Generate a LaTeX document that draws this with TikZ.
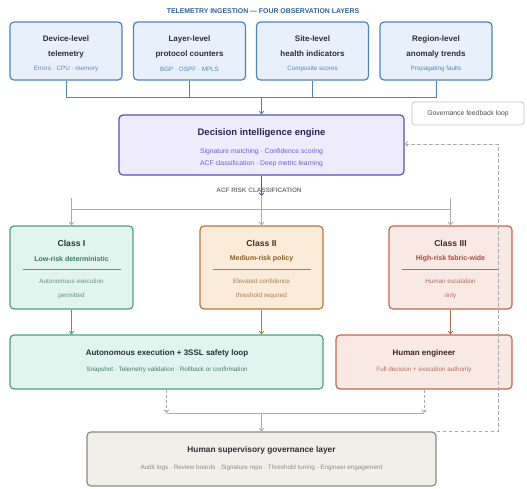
\documentclass[tikz,border=0pt]{standalone}
\usepackage{fontspec}
\setmainfont{Liberation Sans}
\usetikzlibrary{arrows.meta}

\definecolor{obsfill}{HTML}{E8F1FB}
\definecolor{obsdraw}{HTML}{4D84BD}
\definecolor{obssub}{HTML}{4F86C6}
\definecolor{obshead}{HTML}{2F5F9E}
\definecolor{engfill}{HTML}{EEEBFD}
\definecolor{engdraw}{HTML}{5A4EC8}
\definecolor{engsub}{HTML}{6B60D4}
\definecolor{lowfill}{HTML}{E2F4EE}
\definecolor{lowdraw}{HTML}{4C9F85}
\definecolor{lowsub}{HTML}{2F7D63}
\definecolor{medfill}{HTML}{FBECD9}
\definecolor{meddraw}{HTML}{B27A3C}
\definecolor{medsub}{HTML}{8F5E17}
\definecolor{highfill}{HTML}{F9E9E4}
\definecolor{highdraw}{HTML}{C06751}
\definecolor{highsub}{HTML}{B3463A}
\definecolor{govfill}{HTML}{F1EFEA}
\definecolor{govdraw}{HTML}{8E8B83}
\definecolor{linegray}{HTML}{ABABAB}
\definecolor{darktext}{HTML}{2B2F36}

\tikzset{
  box/.style={draw, rounded corners=4pt, line width=1.2pt, inner sep=0pt},
  hd/.style={font=\bfseries\fontsize{8}{9}\selectfont, text=darktext},
  sm/.style={font=\fontsize{6.3}{7.5}\selectfont},
  tip/.style={-{Straight Barb[length=2.5pt,width=4.5pt]}},
  link/.style={draw=linegray, line width=0.9pt},
}

\begin{document}
\begin{tikzpicture}[x=1pt, y=-1pt]
  \useasboundingbox (0,0) rectangle (527,488);

  % observation layers
  \node[font=\bfseries\fontsize{6.9}{8}\selectfont, text=obshead] (ttl) at (263,11) {TELEMETRY INGESTION — FOUR OBSERVATION LAYERS};
  \node[box, fill=obsfill, draw=obsdraw, minimum width=112, minimum height=58] (dev) at (66,51) {};
  \node[box, fill=obsfill, draw=obsdraw, minimum width=112, minimum height=58] (lay) at (189.5,51) {};
  \node[box, fill=obsfill, draw=obsdraw, minimum width=112, minimum height=58] (site) at (312.5,51) {};
  \node[box, fill=obsfill, draw=obsdraw, minimum width=112, minimum height=58] (reg) at (436,51) {};
  \node[hd] at (66,39) {Device-level};
  \node[hd] at (66,54) {telemetry};
  \node[sm, text=obssub] at (66,69) {Errors · CPU · memory};
  \node[hd] at (189.5,39) {Layer-level};
  \node[hd] at (189.5,54) {protocol counters};
  \node[sm, text=obssub] at (189.5,69) {BGP · OSPF · MPLS};
  \node[hd] at (312.5,39) {Site-level};
  \node[hd] at (312.5,54) {health indicators};
  \node[sm, text=obssub] at (312.5,69) {Composite scores};
  \node[hd] at (436,39) {Region-level};
  \node[hd] at (436,54) {anomaly trends};
  \node[sm, text=obssub] at (436,69) {Propagating faults};

  % ingestion bus
  \coordinate (obsbus) at (261.5,97);
  \draw[draw=obsdraw, line width=0.9pt] (dev.south) |- (obsbus);
  \draw[draw=obsdraw, line width=0.9pt] (lay.south) |- (obsbus);
  \draw[draw=obsdraw, line width=0.9pt] (site.south) |- (obsbus);
  \draw[draw=obsdraw, line width=0.9pt] (reg.south) |- (obsbus);

  % decision engine
  \node[box, fill=engfill, draw=engdraw, minimum width=285, minimum height=60] (eng) at (261.5,145) {};
  \draw[draw=obsdraw, line width=0.9pt, tip] (obsbus) -- (eng.north);
  \node[hd, font=\bfseries\fontsize{9.5}{11}\selectfont, text=engdraw!45!black] at (261.5,133.5) {Decision intelligence engine};
  \node[sm, font=\fontsize{6.8}{8}\selectfont, text=engsub] at (261.5,151.5) {Signature matching · Confidence scoring};
  \node[sm, font=\fontsize{6.8}{8}\selectfont, text=engsub] at (261.5,163.5) {ACF classification · Deep metric learning};

  % feedback label
  \node[draw=linegray!70, fill=white, rounded corners=3pt, line width=0.7pt, minimum width=112, minimum height=23] (fbl) at (468,113.5) {};
  \node[font=\fontsize{6.8}{8}\selectfont, text=darktext!85] at (fbl) {Governance feedback loop};

  % risk classification
  \coordinate (acf) at (261.5,196);
  \draw[draw=engdraw, line width=0.9pt, tip] (eng.south) -- (acf);
  \node[font=\bfseries\fontsize{6.4}{7}\selectfont, text=darktext!65] at (259,190) {ACF RISK CLASSIFICATION};

  % class boxes
  \node[box, fill=lowfill, draw=lowdraw, minimum width=123, minimum height=83] (c1) at (71.5,267.5) {};
  \node[box, fill=medfill, draw=meddraw, minimum width=123, minimum height=83] (c2) at (261.5,267.5) {};
  \node[box, fill=highfill, draw=highdraw, minimum width=123, minimum height=83] (c3) at (450.5,267.5) {};

  \coordinate (stubL) at (71.5,198);
  \coordinate (stubR) at (450.5,198);
  \draw[link] (stubL |- 0,209) -- (stubR |- 0,209);
  \draw[link, tip] (stubL) -- (c1.north);
  \draw[link, tip] (acf) -- (c2.north);
  \draw[link, tip] (stubR) -- (c3.north);

  \node[hd, font=\bfseries\fontsize{8.6}{10}\selectfont, text=lowdraw!40!black] at (71.5,243) {Class I};
  \node[font=\bfseries\fontsize{7}{8}\selectfont, text=lowsub] at (71.5,259) {Low-risk deterministic};
  \draw[draw=lowdraw, line width=0.6pt] (22.5,269) -- (120.5,269);
  \node[sm, text=lowdraw!70!gray] at (71.5,281) {Autonomous execution};
  \node[sm, text=lowdraw!70!gray] at (71.5,296) {permitted};

  \node[hd, font=\bfseries\fontsize{8.6}{10}\selectfont, text=meddraw!40!black] at (261.5,243) {Class II};
  \node[font=\bfseries\fontsize{7}{8}\selectfont, text=medsub] at (261.5,259) {Medium-risk policy};
  \draw[draw=meddraw, line width=0.6pt] (212.5,269) -- (310.5,269);
  \node[sm, text=meddraw!80!gray] at (261.5,281) {Elevated confidence};
  \node[sm, text=meddraw!80!gray] at (261.5,296) {threshold required};

  \node[hd, font=\bfseries\fontsize{8.6}{10}\selectfont, text=highdraw!40!black] at (450.5,243) {Class III};
  \node[font=\bfseries\fontsize{7}{8}\selectfont, text=highsub] at (450.5,259) {High-risk fabric-wide};
  \draw[draw=highdraw, line width=0.6pt] (402,269) -- (499,269);
  \node[sm, text=highdraw!80!gray] at (450.5,281) {Human escalation};
  \node[sm, text=highdraw!80!gray] at (450.5,296) {only};

  % execution
  \node[box, fill=lowfill, draw=lowdraw, minimum width=313, minimum height=54] (auto) at (166.5,362) {};
  \node[box, fill=highfill, draw=highdraw, minimum width=176, minimum height=54] (human) at (424,362) {};
  \draw[draw=lowdraw, line width=0.9pt, tip] (c1.south) -- (c1.south |- auto.north);
  \draw[draw=meddraw, line width=0.9pt, tip] (c2.south) -- (c2.south |- auto.north);
  \draw[draw=highdraw, line width=0.9pt, tip] (c3.south) -- (c3.south |- human.north);
  \node[hd] at (167,353) {Autonomous execution + 3SSL safety loop};
  \node[sm, text=lowsub!80!gray] at (167,370) {Snapshot · Telemetry validation · Rollback or confirmation};
  \node[hd, text=highdraw!35!black] at (424,353) {Human engineer};
  \node[sm, text=highdraw!85!gray] at (424,370) {Full decision + execution authority};

  % governance
  \coordinate (govbus) at (261.5,413);
  \node[box, fill=govfill, draw=govdraw, minimum width=349, minimum height=54] (gov) at (261.5,459) {};
  \draw[link, dashed, dash pattern=on 3pt off 2pt, tip] (auto.south) -- (auto.south |- govbus);
  \draw[link, dashed, dash pattern=on 3pt off 2pt, tip] (human.south) -- (human.south |- govbus);
  \draw[link] (auto.south |- govbus) -- (human.south |- govbus);
  \draw[link, tip] (govbus) -- (gov.north);
  \node[hd, font=\bfseries\fontsize{8.3}{10}\selectfont] at (261.5,450) {Human supervisory governance layer};
  \node[sm, text=govdraw] at (261.5,468) {Audit logs · Review boards · Signature repo · Threshold tuning · Engineer engagement};

  % feedback loop
  \coordinate (fbk) at (498,144);
  \draw[link, dashed, dash pattern=on 3.5pt off 2.5pt, tip] (gov.north east) -- (gov.north east -| fbk) -- (fbk) -- (fbk -| eng.east);
\end{tikzpicture}
\end{document}
